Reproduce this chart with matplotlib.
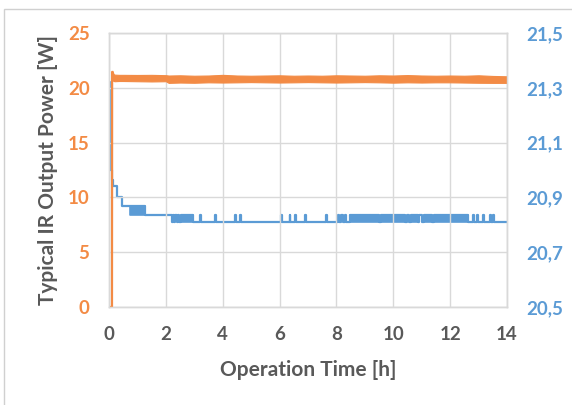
import matplotlib
matplotlib.use("Agg")
import matplotlib.pyplot as plt
from matplotlib.patches import Rectangle

# orange series (left axis): start-up jump, then the noise band
orange_rise_t = [0.0, 0.105, 0.11, 0.13, 0.16]
orange_rise_v = [0.0, 0.0, 21.45, 21.25, 20.95]
orange_t = [0.12, 0.16, 0.2, 0.35, 0.5, 1.0, 1.5, 2.0, 2.1, 2.5, 3.0, 3.5, 4.0, 4.5,
            5.0, 5.5, 6.0, 6.5, 7.0, 7.5, 8.0, 8.5, 9.0, 9.5, 10.0, 10.5, 11.0,
            11.5, 12.0, 12.5, 13.0, 13.5, 14.0]
orange_lo = [20.70, 20.62, 20.60, 20.62, 20.62, 20.60, 20.58, 20.60, 20.45, 20.48, 20.46,
             20.50, 20.48, 20.50, 20.52, 20.50, 20.48, 20.50, 20.52, 20.50, 20.48,
             20.50, 20.52, 20.50, 20.47, 20.50, 20.48, 20.50, 20.50, 20.48, 20.46,
             20.45, 20.45]
orange_hi = [21.55, 21.25, 21.20, 21.18, 21.18, 21.17, 21.18, 21.15, 21.12, 21.14, 21.10,
             21.12, 21.18, 21.12, 21.10, 21.12, 21.14, 21.10, 21.12, 21.10, 21.14,
             21.12, 21.10, 21.14, 21.12, 21.16, 21.12, 21.10, 21.12, 21.10, 21.14,
             21.08, 21.05]

# blue series (right axis): settling steps
blue_step_t = [0.0, 0.02, 0.10, 0.14, 0.28, 0.46, 1.27, 2.20]
blue_step_v = [21.32, 21.00, 20.965, 20.94, 20.90, 20.87, 20.835, 20.81]
blue_block_start = [0.74]
blue_block_end = [1.27]
blue_block_lo = [20.835]
blue_block_hi = [20.87]
# toggles between the two last levels
blue_lo = 20.81
blue_hi = 20.835
blue_hi_start = [2.25, 2.33, 2.43, 2.52, 3.20, 3.73, 4.43, 4.60, 6.05, 6.35, 6.56, 6.90,
                 7.65, 8.06, 8.16, 8.30, 8.48, 9.56, 10.47, 10.62, 10.92, 11.08, 11.42,
                 12.80, 12.95, 13.15, 13.40, 13.52]
blue_hi_end = [2.29, 2.38, 2.47, 2.95, 3.23, 3.76, 4.46, 4.63, 6.08, 6.38, 6.59, 6.93,
               7.68, 8.10, 8.24, 8.34, 9.50, 10.41, 10.55, 10.86, 11.02, 11.36, 12.62,
               12.83, 12.98, 13.18, 13.43, 13.55]

x_ticks = [0, 2, 4, 6, 8, 10, 12, 14]
left_ticks = [0, 5, 10, 15, 20, 25]
right_ticks = [20.5, 20.7, 20.9, 21.1, 21.3, 21.5]
right_labels = ["20,5", "20,7", "20,9", "21,1", "21,3", "21,5"]

ORANGE = "#F38B45"
BLUE = "#5B9BD5"
GREY = "#595959"
GRID = "#D9D9D9"

plt.rcParams["font.family"] = ["Lato", "DejaVu Sans"]
plt.rcParams["font.weight"] = "bold"

fig = plt.figure(figsize=(5.72, 4.05), dpi=100)
fig.patches.append(Rectangle((4 / 572, -0.1), 1.0, 1.1 - 9 / 405, transform=fig.transFigure,
                             fill=False, edgecolor="#D0D0D0", lw=1.0))

ax = fig.add_axes([109 / 572, 98 / 405, 398 / 572, 274 / 405])
ax2 = ax.twinx()
ax.set_zorder(ax2.get_zorder() + 1)
ax.patch.set_visible(False)

# blue
bx = list(blue_step_t)
by = list(blue_step_v)
for s, e in zip(blue_hi_start, blue_hi_end):
    bx += [s, e]
    by += [blue_hi, blue_lo]
bx.append(14.0)
by.append(blue_lo)
ax2.plot(bx, by, color=BLUE, lw=1.6, drawstyle="steps-post", zorder=3)
for s, e, lo, hi in zip(blue_block_start, blue_block_end, blue_block_lo, blue_block_hi):
    ax2.fill_between([s, e], [lo, lo], [hi, hi], color=BLUE, lw=1.2)
for s, e in zip(blue_hi_start, blue_hi_end):
    if e - s > 0.1:
        ax2.fill_between([s, e], [blue_lo, blue_lo], [blue_hi, blue_hi], color=BLUE, lw=1.2)

# orange
ax.plot(orange_rise_t, orange_rise_v, color=ORANGE, lw=1.6)
ax.fill_between(orange_t, orange_lo, orange_hi, color=ORANGE, lw=0.8, edgecolor=ORANGE)

ax.set_xlim(0, 14)
ax.set_ylim(0, 25)
ax2.set_ylim(20.5, 21.5)
ax.set_xticks(x_ticks)
ax.set_yticks(left_ticks)
ax2.set_yticks(right_ticks)
ax2.set_yticklabels(right_labels)
ax.grid(True, color=GRID, lw=1.0)
ax.set_axisbelow(True)

for a in (ax, ax2):
    for sp in a.spines.values():
        sp.set_color(GRID)
        sp.set_linewidth(1.0)

ax.tick_params(axis="x", length=0, pad=14, labelsize=13.5, labelcolor=GREY)
ax.tick_params(axis="y", length=0, pad=14, labelsize=13.5, labelcolor=ORANGE)
ax2.tick_params(axis="y", length=0, pad=14, labelsize=13.5, labelcolor=BLUE)

ax.set_xlabel("Operation Time [h]", fontsize=15, color=GREY, fontweight="bold", labelpad=12)
ax.set_ylabel("Typical IR Output Power [W]", fontsize=15, color=GREY, fontweight="bold",
              labelpad=7)

fig.savefig("out.png", dpi=100)
